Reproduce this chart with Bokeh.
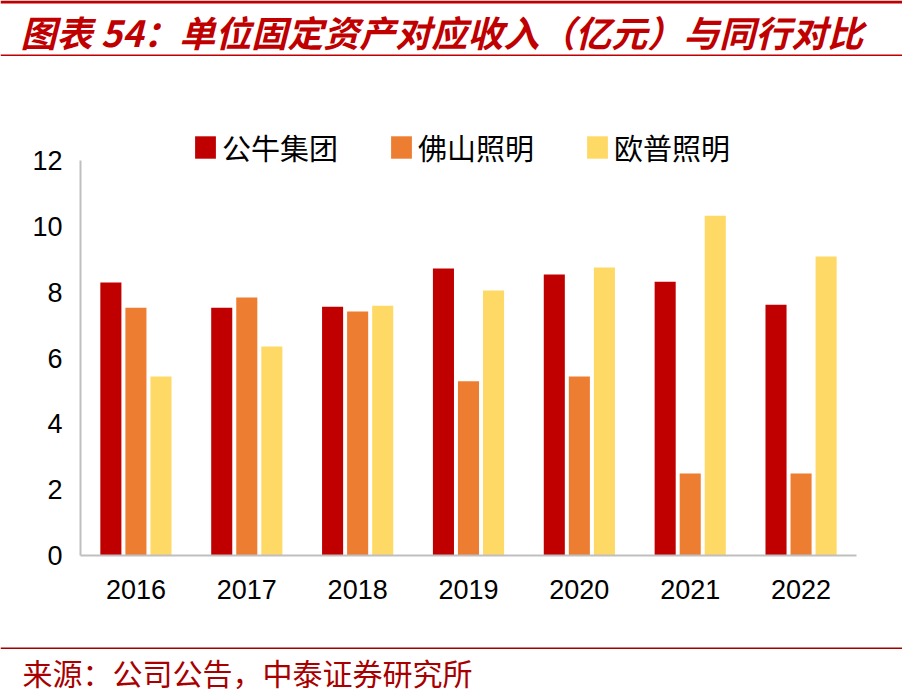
from bokeh.plotting import figure
from bokeh.models import (Range1d, ColumnDataSource, Legend, LegendItem, Label, BoxAnnotation,
                          FixedTicker, LinearAxis)
from bokeh.transform import dodge
from bokeh.embed import file_html
from bokeh.resources import INLINE

years = ["2016", "2017", "2018", "2019", "2020", "2021", "2022"]
gongniu = [8.29, 7.53, 7.56, 8.72, 8.54, 8.32, 7.62]
foshan = [7.53, 7.84, 7.41, 5.29, 5.44, 2.49, 2.49]
oupu = [5.44, 6.35, 7.59, 8.05, 8.75, 10.32, 9.08]
series_names = ["公牛集团", "佛山照明", "欧普照明"]
colors = ["#C00000", "#ED7D31", "#FFD966"]
y_ticks = [0, 2, 4, 6, 8, 10, 12]
title_text = "图表 54：单位固定资产对应收入（亿元）与同行对比"
source_text = "来源：公司公告，中泰证券研究所"

W, H = 902, 694
# plot area in pixels (left, right, top=12, bottom=0)
PL, PR, PT, PB = 80, 856, 160, 555
ymax = 12
n = len(years)
sx = (PR - PL) / n
sy = (PB - PT) / ymax

centers = [i + 0.5 for i in range(n)]
src = ColumnDataSource(dict(xc=centers, a=gongniu, b=foshan, c=oupu))

p = figure(width=W, height=H,
           x_range=Range1d(-PL / sx, n + (W - PR) / sx),
           y_range=Range1d(-(H - PB) / sy, ymax + PT / sy),
           output_backend="svg", toolbar_location=None, min_border=0,
           x_axis_location=None, y_axis_location=None)
p.outline_line_color = None
p.grid.visible = False

renderers = []
for col, off, color in zip(["a", "b", "c"], [-0.226, 0.0, 0.226], colors):
    r = p.vbar(x=dodge("xc", off), top=col, width=0.19, source=src,
               fill_color=color, line_color=None)
    renderers.append(r)

xaxis = LinearAxis(fixed_location=0, bounds=(0, n), ticker=FixedTicker(ticks=centers),
                   major_label_overrides={c: y for c, y in zip(centers, years)})
yaxis = LinearAxis(fixed_location=0, bounds=(0, ymax), ticker=FixedTicker(ticks=y_ticks))
for ax in (xaxis, yaxis):
    ax.axis_line_color = "#BFBFBF"
    ax.axis_line_width = 2
    ax.major_tick_line_color = None
    ax.minor_tick_line_color = None
    ax.major_tick_out = 0
    ax.major_tick_in = 0
    ax.minor_tick_out = 0
    ax.minor_tick_in = 0
    ax.major_label_text_font = "Liberation Sans"
    ax.major_label_text_font_size = "27px"
    ax.major_label_text_color = "#000000"
yaxis.major_label_standoff = 18
xaxis.major_label_standoff = 24
p.add_layout(xaxis, "below")
p.add_layout(yaxis, "left")

legend = Legend(items=[LegendItem(label=nm, renderers=[r]) for nm, r in zip(series_names, renderers)],
                orientation="horizontal", location=(192, H - 151 - 17), padding=0, margin=0,
                spacing=50, label_standoff=4, glyph_width=26, glyph_height=28,
                border_line_color=None, background_fill_alpha=0,
                label_text_font="Noto Sans CJK SC", label_text_font_size="29px",
                label_text_color="#000000")
p.add_layout(legend, "center")


def hline(y_top, thick, color):
    return BoxAnnotation(left=0, right=W, top=H - y_top, bottom=H - y_top - thick,
                         left_units="screen", right_units="screen", top_units="screen",
                         bottom_units="screen", fill_color=color, fill_alpha=1, line_color=None)


p.add_layout(hline(0, 3, "#C00000"))
p.add_layout(hline(54, 1.5, "#C00000"))
p.add_layout(hline(647, 1.5, "#A00000"))

p.add_layout(Label(x=20, y=H - 30, x_units="screen", y_units="screen", text=title_text,
                   text_font="Noto Sans CJK SC", text_font_size="36px", text_font_style="bold italic",
                   text_color="#C00000", text_baseline="middle"))
p.add_layout(Label(x=22, y=H - 671, x_units="screen", y_units="screen", text=source_text,
                   text_font="Noto Sans CJK SC", text_font_size="30px",
                   text_color="#A80000", text_baseline="middle"))

open("out.html", "w").write(file_html(p, INLINE))
